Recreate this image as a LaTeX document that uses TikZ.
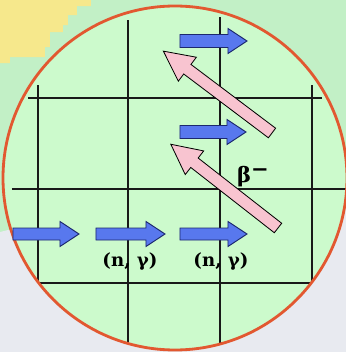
\documentclass[tikz,border=0pt]{standalone}
\usepackage{fontspec}
\newfontfamily\labelfont{DejaVu Serif}
\usetikzlibrary{positioning}
\definecolor{bggreen}{RGB}{194,240,198}
\definecolor{dishgreen}{RGB}{204,250,204}
\definecolor{rimred}{RGB}{226,88,48}
\definecolor{nblue}{RGB}{88,120,238}
\definecolor{nblueline}{RGB}{28,40,110}
\definecolor{bpink}{RGB}{248,196,208}
\definecolor{sandyellow}{RGB}{246,232,140}
\definecolor{greyish}{RGB}{232,234,240}

\begin{document}
\begin{tikzpicture}[
  x=0.03cm, y=0.03cm,
  gridline/.style={line width=1.6pt, draw=black!90},
  neutron/.style={fill=nblue, draw=nblueline, line width=0.8pt},
  decay/.style={fill=bpink, draw=black, line width=0.7pt},
  reaction/.style={font=\labelfont\bfseries\fontsize{15.5}{18}\selectfont, inner sep=1pt},
  % length / half shaft / half head / head length
  pics/blockarrow/.style args={#1/#2/#3/#4}{code={
    \path[pic actions] (0,-#2) -- (#1-#4,-#2) -- (#1-#4,-#3) -- (#1,0)
      -- (#1-#4,#3) -- (#1-#4,#2) -- (0,#2) -- cycle;
  }}
]
  % background
  \useasboundingbox (0,0) rectangle (346,352);
  \fill[bggreen] (0,0) rectangle (346,352);
  \fill[greyish] (0,0) -- (346,0) -- (346,205) -- (0,120) -- cycle;
  \fill[sandyellow] (0,352) -- (91,352) -- (91,346) -- (77,346) -- (77,337)
    -- (68,337) -- (68,327) -- (63,327) -- (63,320) -- (50,320) -- (50,305)
    -- (45,305) -- (45,295) -- (10,295) -- (10,289) -- (0,289) -- cycle;

  % dish
  \fill[dishgreen] (175,174) circle (172);
  \begin{scope}
    \clip (175,174) circle (172);
    \draw[gridline] (38,267) -- (38,69);
    \draw[gridline] (128,332) -- (128,0);
    \draw[gridline] (220,335) -- (220,0);
    \draw[gridline] (312,267) -- (312,69);
    \draw[gridline] (28,254) -- (322,254);
    \draw[gridline] (12,163) -- (352,163);
    \draw[gridline] (38,69) -- (312,69);
  \end{scope}
  \draw[rimred, line width=2.4pt] (175,174) circle (172);

  % neutron captures
  \coordinate (n1) at (180,311);
  \coordinate (n2) at (180,220);
  \coordinate (n3) at (13,118);
  \coordinate (n4) at (96,118);
  \coordinate (n5) at (180,118);
  \pic[neutron] at (n1) {blockarrow=67/6.5/12.5/19};
  \pic[neutron] at (n2) {blockarrow=66/6.5/12.5/19};
  \pic[neutron] at (n3) {blockarrow=66/6/12.5/19};
  \pic[neutron] at (n4) {blockarrow=69/6/12.5/19};
  \pic[neutron] at (n5) {blockarrow=67/6/12.5/19};

  % beta decays
  \coordinate (b1) at (272,219);
  \coordinate (b2) at (278,124);
  \pic[decay, rotate=143] at (b1) {blockarrow=136/6/15/30};
  \pic[decay, rotate=142] at (b2) {blockarrow=136/6/15/30};

  \node[reaction] (ng1) at (130,90) {(n, γ)};
  \node[reaction] (ng2) at (221,90) {(n, γ)};
  \node[reaction, font=\labelfont\bfseries\fontsize{18}{20}\selectfont] (beta) at (253,175) {β\raisebox{0.55ex}{−}};
\end{tikzpicture}
\end{document}
